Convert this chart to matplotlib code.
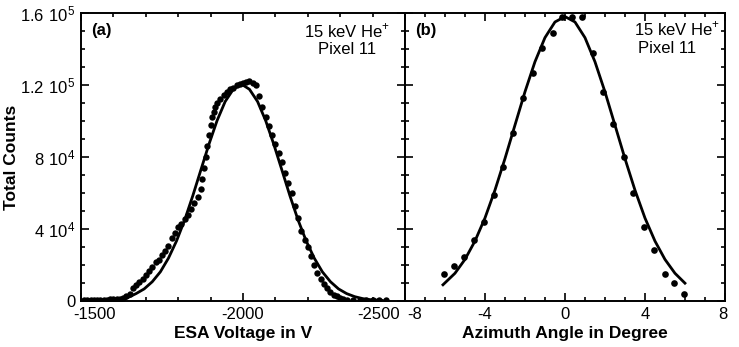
import numpy as np
import matplotlib
matplotlib.use('Agg')
import matplotlib.pyplot as plt
import matplotlib.transforms as mtransforms
from matplotlib.ticker import MultipleLocator

plt.rcParams['font.family'] = ['Liberation Sans', 'DejaVu Sans']
plt.rcParams['mathtext.fontset'] = 'custom'
plt.rcParams['mathtext.rm'] = 'Liberation Sans'
plt.rcParams['axes.unicode_minus'] = False

# (a) ESA voltage scan, measured counts
esa_v = [-1510, -1520, -1530, -1540, -1550, -1560, -1570, -1580, -1590, -1600,
         -1610, -1620, -1630, -1640, -1650, -1660, -1670, -1680, -1690, -1700,
         -1710, -1720, -1730, -1740, -1750, -1760, -1770, -1780, -1790, -1800,
         -1810, -1820, -1830, -1840, -1850, -1860, -1870, -1875, -1880, -1885,
         -1890, -1895, -1900, -1905, -1910, -1915, -1920, -1930, -1940, -1950,
         -1960, -1970, -1980, -1990, -2000, -2010, -2020, -2030, -2040, -2050,
         -2060, -2070, -2080, -2090, -2100, -2110, -2120, -2130, -2140, -2150,
         -2160, -2170, -2180, -2190, -2200, -2210, -2220, -2230, -2240, -2250,
         -2260, -2270, -2280, -2290, -2300, -2310, -2320, -2340, -2360, -2380,
         -2400, -2420, -2440]
esa_counts = [300, 400, 500, 500, 600, 700, 700, 800, 900, 1000,
              1100, 1200, 1500, 2500, 4000, 7000, 9000, 10500, 12000, 14500,
              16500, 19000, 21500, 23000, 25500, 28000, 30500, 35000, 38000, 41000,
              43000, 45500, 48000, 51000, 54500, 57500, 62000, 68000, 74000, 80000,
              86000, 92000, 98000, 102000, 105000, 107500, 110000, 112000, 114500, 116000,
              118000, 118500, 120000, 120500, 121000, 121500, 122000, 121000, 120000, 114000,
              108000, 102000, 97000, 92000, 87000, 82000, 77000, 71000, 65500, 60000,
              53000, 46000, 39000, 34000, 30000, 25000, 20000, 15500, 12000, 9500,
              7000, 5000, 3500, 2500, 1500, 1000, 800, 700, 700, 600,
              600, 500, 500]

# (a) fitted curve
esa_fit_v = [-1640, -1670, -1695, -1720, -1745, -1770, -1795, -1820, -1845, -1870,
             -1895, -1920, -1945, -1970, -1995, -2020, -2045, -2070, -2095, -2120,
             -2145, -2170, -2195, -2220, -2245, -2270, -2295, -2320, -2345, -2370,
             -2395, -2430]
esa_fit_counts = [1500, 4100, 6700, 10700, 16200, 23800, 33400, 45000, 58400, 72800,
                  87100, 100200, 110800, 117600, 120500, 117600, 110800, 100200, 87100, 72800,
                  58400, 45000, 33400, 23800, 16200, 10700, 6700, 4100, 2400, 1300,
                  700, 300]

# (b) azimuth scan, measured counts
az_deg = [-6.05, -5.53, -5.03, -4.55, -4.05, -3.55, -3.12, -2.62, -2.12, -1.62,
          -1.17, -0.62, -0.17, 0.33, 0.83, 1.38, 1.88, 2.42, 2.95, 3.42,
          3.97, 4.47, 5.0, 5.47, 5.97]
az_counts = [14800, 19600, 24300, 33900, 44100, 58900, 74600, 93500, 112600, 126500,
             140700, 149000, 157600, 158000, 158000, 137600, 116300, 98300, 80200, 60200,
             41300, 28300, 15000, 9800, 3900]

# (b) fitted curve
az_fit_deg = [-6.1, -5.5, -5.0, -4.5, -4.0, -3.5, -3.0, -2.5, -2.0, -1.5, -1.0, -0.5,
              0.0, 0.5, 1.0, 1.5, 2.0, 2.5, 3.0, 3.5, 4.0, 4.5, 5.0, 5.5, 6.0]
az_fit_counts = [9000, 15400, 23100, 33300, 46100, 61600, 79100, 97700, 116200, 132900,
                 146300, 155000, 158000, 155000, 146300, 132900, 116200, 97700, 79100, 61600,
                 46100, 33300, 23100, 15400, 9900]

ytick_vals = [0, 40000, 80000, 120000, 160000]
ytick_labels = ['0', r'$\mathregular{4\ 10^4}$', r'$\mathregular{8\ 10^4}$',
                r'$\mathregular{1.2\ 10^5}$', r'$\mathregular{1.6\ 10^5}$']

fig = plt.figure(figsize=(7.39, 3.47), dpi=100)
ax1 = fig.add_axes([0.1096, 0.1326, 0.4384, 0.830])
ax2 = fig.add_axes([0.548, 0.1326, 0.433, 0.830])

ax1.plot(esa_v, esa_counts, 'o', color='black', markersize=4.6, markeredgewidth=0)
ax1.plot(esa_fit_v, esa_fit_counts, '-', color='black', linewidth=2.0)
ax2.plot(az_deg, az_counts, 'o', color='black', markersize=4.8, markeredgewidth=0)
ax2.plot(az_fit_deg, az_fit_counts, '-', color='black', linewidth=2.0)

ax1.set_xlim(-1500, -2500)
ax1.set_ylim(0, 160000)
ax1.set_xticks([-1500, -2000, -2500])
ax1.xaxis.set_minor_locator(MultipleLocator(100))
ax1.set_yticks(ytick_vals)
ax1.set_yticklabels(ytick_labels)
ax1.yaxis.set_minor_locator(MultipleLocator(10000))

ax2.set_xlim(-8, 8)
ax2.set_ylim(0, 160000)
ax2.set_xticks([-8, -4, 0, 4, 8])
ax2.xaxis.set_minor_locator(MultipleLocator(1))
ax2.set_yticks(ytick_vals)
ax2.set_yticklabels([])
ax2.yaxis.set_minor_locator(MultipleLocator(10000))

for ax in (ax1, ax2):
    ax.tick_params(which='both', direction='in', top=True, right=True, width=1.2)
    ax.tick_params(which='major', length=6, labelsize=12, pad=4)
    ax.tick_params(which='minor', length=3)
    for sp in ax.spines.values():
        sp.set_linewidth(1.4)

# nudge the edge tick labels so neighbouring panels do not collide
def nudge(label, dx_px):
    off = mtransforms.ScaledTranslation(dx_px / 100.0, 0, fig.dpi_scale_trans)
    label.set_transform(label.get_transform() + off)

xl1 = ax1.get_xticklabels()
nudge(xl1[0], 14)
nudge(xl1[2], -26)
xl2 = ax2.get_xticklabels()
nudge(xl2[0], 10)
nudge(xl2[4], -2)

ax1.set_xlabel('ESA Voltage in V', fontsize=12.5, fontweight='bold', labelpad=3)
ax1.set_ylabel('Total Counts', fontsize=12.5, fontweight='bold')
ax1.yaxis.set_label_coords(-0.19, 0.5)
ax2.set_xlabel('Azimuth Angle in Degree', fontsize=12.5, fontweight='bold', labelpad=3)

ax1.text(0.03, 0.94, '(a)', transform=ax1.transAxes, fontsize=12, fontweight='bold', va='center')
ax1.text(0.955, 0.9375, r'15 keV He$^{+}$', transform=ax1.transAxes, fontsize=12, ha='right', va='center')
ax1.text(0.82, 0.872, 'Pixel 11', transform=ax1.transAxes, fontsize=12, ha='center', va='center')

ax2.text(0.031, 0.94, '(b)', transform=ax2.transAxes, fontsize=12, fontweight='bold', va='center')
ax2.text(0.984, 0.945, r'15 keV He$^{+}$', transform=ax2.transAxes, fontsize=12, ha='right', va='center')
ax2.text(0.82, 0.877, 'Pixel 11', transform=ax2.transAxes, fontsize=12, ha='center', va='center')

fig.savefig('out.png', dpi=100)
